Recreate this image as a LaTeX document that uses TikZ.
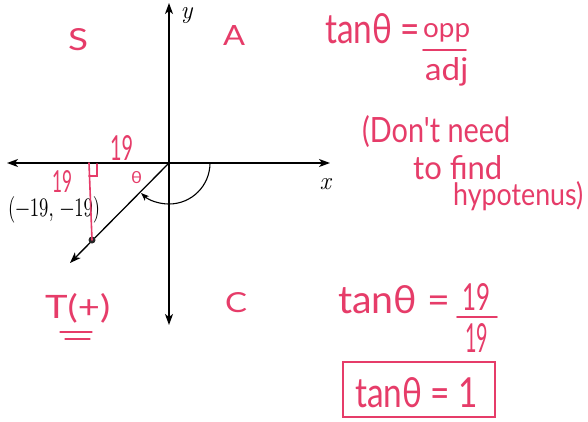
\documentclass[tikz,border=0pt]{standalone}
\usepackage{fontspec}
\newfontfamily\handfont{Lato}
\usetikzlibrary{arrows.meta}
\definecolor{ink}{RGB}{230,60,105}
\newcommand{\hw}[3]{\resizebox{#1pt}{#2pt}{\handfont #3}}
\begin{document}
\begin{tikzpicture}[x=1pt,y=-1pt,
  axis/.style={line width=1.3pt,black},
  tipb/.style={-{Stealth[length=11pt,width=8pt,inset=3pt]}},
  redline/.style={line width=1.6pt,ink,line cap=round},
  hand/.style={inner sep=0pt,anchor=base west,text=ink},
  lab/.style={inner sep=0pt,text=black}]
\path[use as bounding box,fill=white] (0,0) rectangle (588,421);
% axes
\coordinate (O) at (169,163);
\coordinate (XL) at (7,163);
\coordinate (XR) at (330,163);
\coordinate (YT) at (169,3);
\coordinate (YB) at (169,325);
\coordinate (RT) at (70,263);
\coordinate (F) at (89,163);
\coordinate (RA1) at (89,176);
\coordinate (RA2) at (97,176);
\coordinate (RA3) at (97,164);
\draw[axis,{Stealth[length=11pt,width=8pt,inset=3pt]}-{Stealth[length=11pt,width=8pt,inset=3pt]}] (XL) -- (XR);
\draw[axis,{Stealth[length=11pt,width=8pt,inset=3pt]}-{Stealth[length=11pt,width=8pt,inset=3pt]}] (YB) -- (YT);
\draw[axis,tipb] (O) -- (RT);
\draw[line width=1.1pt,-{Stealth[length=8pt,width=6pt,inset=2pt]}] ([shift={(41,0)}]O) arc[start angle=0,end angle=-133,radius=41pt];
\node[circle,fill=black!85,inner sep=0pt,minimum size=7pt] (Pt) at (92,240) {};
\node[lab] (ylab) at (187,16) {\fontsize{25}{25}\selectfont\textit{y}};
\node[lab] (xlab) at (326,184) {\fontsize{25}{25}\selectfont\textit{x}};
\node[lab,anchor=base west] (coord) at (8,216) {\resizebox{92pt}{20pt}{(−19, −19)}};
% red construction
\draw[redline] (F) -- (Pt.center);
\draw[redline] (RA1) -- (RA2) -- (RA3);
\node[hand] (n19a) at (52,192) {\hw{20}{22}{19}};
\node[hand] (n19b) at (110,160) {\hw{23}{25}{19}};
\node[hand] (th) at (131,183) {\hw{11}{12}{θ}};
% quadrant letters
\node[hand] (S) at (68,50) {\hw{20}{22}{S}};
\node[hand] (A) at (223,45) {\hw{22}{20}{A}};
\node[hand] (C) at (225,312) {\hw{22}{20}{C}};
\node[hand] (T) at (45,318) {\hw{65}{25}{T(+)}};
\coordinate (U1) at (60,332);
\coordinate (U2) at (92,332);
\coordinate (U3) at (65,339);
\coordinate (U4) at (90,339);
\draw[redline,line width=1.3pt] (U1) -- (U2);
\draw[redline,line width=1.3pt] (U3) -- (U4);
% right notes
\node[hand] (tan1) at (325,43) {\hw{95}{30}{tanθ =}};
\node[hand] (opp) at (423,37) {\hw{47}{14}{opp}};
\coordinate (B1) at (423,50);
\coordinate (B2) at (466,50);
\draw[redline] (B1) -- (B2);
\node[hand] (adj) at (425,80) {\hw{43}{23}{adj}};
\node[hand] (note1) at (362,142) {\hw{148}{27}{(Don't need}};
\node[hand] (note2) at (413,179) {\hw{89}{24}{to find}};
\node[hand] (note3) at (453,205) {\hw{130}{24}{hypotenus)}};
\node[hand] (tan2) at (338,313) {\hw{112}{28}{tanθ =}};
\node[hand] (num) at (462,310) {\hw{28}{27}{19}};
\coordinate (C1) at (457,317);
\coordinate (C2) at (497,317);
\draw[redline] (C1) -- (C2);
\node[hand] (den) at (465,352) {\hw{23}{29}{19}};
\node[draw=ink,line width=1.6pt,inner sep=0pt,minimum width=152pt,minimum height=55pt] (box) at (419,389.5) {};
\node[hand] (tan3) at (355,407) {\hw{123}{30}{tanθ = 1}};
\end{tikzpicture}
\end{document}
